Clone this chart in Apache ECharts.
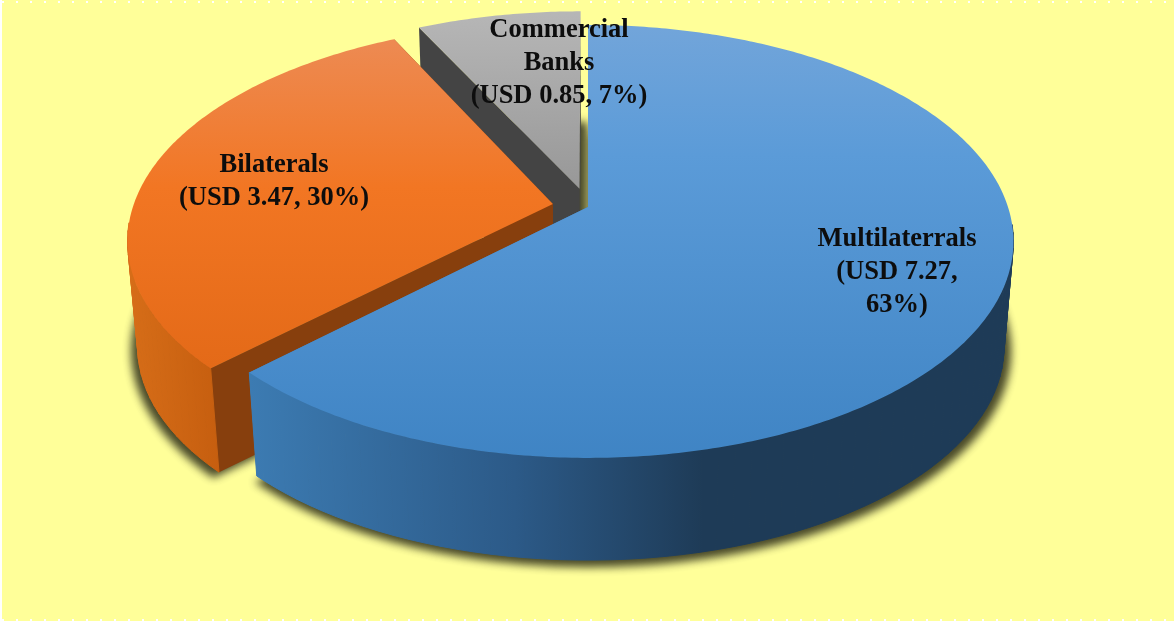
<!DOCTYPE html>
<html>
<head>
<meta charset="utf-8">
<style>
  html, body { margin: 0; padding: 0; background: #fff; }
  #chart { width: 1174px; height: 621px; }
</style>
</head>
<body>
<div id="chart"></div>
<script src="https://cdn.jsdelivr.net/npm/echarts@6/dist/echarts.min.js"></script>
<script>
// USD values, clockwise from 12 o'clock
const sources = ["Multilaterrals", "Bilaterals", "Commercial\nBanks"];
const usdValues = [7.27, 3.47, 0.85];
const explode = [0, 0.085, 0.09];

const labelTexts = [
  "Multilaterrals\n(USD 7.27,\n63%)",
  "Bilaterals\n(USD 3.47, 30%)",
  "Commercial\nBanks\n(USD 0.85, 7%)",
];

// perspective of the disk
const cx = 588, cy = 207, radiusX = 420, radiusY = 211, tilt = 0.159;
const depth = 106, bottomScale = 0.985, bottomNarrow = 0.007;
// the shadow shape is drawn off the page, only its blur lands on the paper
const offPage = 3000;

const linear = (x, y, x2, y2, stops) => ({
  type: "linear", x, y, x2, y2, global: true,
  colorStops: stops.map(([offset, color]) => ({ offset, color })),
});

const topFills = [
  linear(0, 25, 0, 460, [[0, "#72a5da"], [0.3, "#5b9bd8"], [1, "#3f84c4"]]),
  linear(0, 42, 0, 365, [[0, "#ed8a52"], [0.45, "#f27623"], [1, "#e46a18"]]),
  linear(0, 14, 0, 187, [[0, "#b6b6b6"], [1, "#989898"]]),
];
const wallFills = [
  linear(250, 0, 1005, 0, [[0, "#3c7bb2"], [0.35, "#2c5a88"], [0.6, "#1e3b57"], [1, "#1e3b57"]]),
  linear(130, 0, 220, 0, [[0, "#d66d18"], [1, "#c65e0f"]]),
  "#444444",
];
const cutFills = ["#3f7fb8", "#873f0d", "#444444"];
const shadowShiftX = [2, -1, 7];

const total = usdValues.reduce((a, b) => a + b, 0);
const startAngles = usdValues.map((_, i) =>
  usdValues.slice(0, i).reduce((a, b) => a + b, 0) / total * Math.PI * 2
);

function project(u, v, scale) {
  const den = 1 - tilt * v;
  const x = radiusX * u / den;
  const y = radiusY * v / den;
  return scale
    ? [cx + x * (scale - bottomNarrow), cy + depth + y * scale]
    : [cx + x, cy + y];
}

function buildSlice(i) {
  const a0 = startAngles[i];
  const sweep = usdValues[i] / total * Math.PI * 2;
  const mid = a0 + sweep / 2;
  const du = explode[i] * Math.sin(mid);
  const dv = -explode[i] * Math.cos(mid);
  const steps = Math.ceil(sweep / 0.012);
  const angleAt = (s) => a0 + sweep * s / steps;

  const rim = (scale) => {
    const pts = [];
    for (let s = 0; s <= steps; s++) {
      const a = angleAt(s);
      pts.push(project(Math.sin(a) + du, -Math.cos(a) + dv, scale));
    }
    return pts;
  };
  const top = rim(0);
  const bottom = rim(bottomScale);
  const apexTop = project(du, dv, 0);
  const apexBottom = project(du, dv, bottomScale);

  const poly = (points, fill, extra) => ({
    type: "polygon",
    shape: { points },
    style: Object.assign({ fill, stroke: null }, extra),
  });

  // rim wall as a strip of quads, a single outline would lose the tangent sides
  const wall = [];
  for (let s = 0; s < steps; s += 3) {
    const e = Math.min(s + 3, steps);
    if (-Math.cos(angleAt(s)) < 0.1 && -Math.cos(angleAt(e)) < 0.1) continue; // back of the disk, never seen
    wall.push({
      type: "polygon",
      shape: { points: [top[s], top[e], bottom[e], bottom[s]] },
      style: { fill: wallFills[i], stroke: wallFills[i], lineWidth: 1 },
    });
  }

  const shadowShape = [apexBottom].concat(rim(bottomScale + 0.012))
    .map(([x, y]) => [x - offPage, y]);

  return {
    type: "group",
    children: [
      poly(shadowShape, "#000000", {
        shadowBlur: 9,
        shadowColor: "rgba(40,40,20,0.85)",
        shadowOffsetX: offPage + shadowShiftX[i],
        shadowOffsetY: 4,
      }),
      // cut faces go under the rim wall, the back ones end up hidden
      poly([apexTop, top[0], bottom[0], apexBottom], cutFills[i]),
      poly([apexTop, top[steps], bottom[steps], apexBottom], cutFills[i]),
      ...wall,
      poly([apexTop].concat(top), topFills[i]),
    ],
  };
}

const labelStyle = {
  font: 'bold 26.5px "Liberation Serif"',
  fill: "#0d0d0d",
  textAlign: "center",
  textVerticalAlign: "middle",
  lineHeight: 33,
};

const dotted = (y, dash, opacity) => ({
  type: "line",
  z: -1,
  silent: true,
  shape: { x1: 2, y1: y, x2: 1174, y2: y },
  style: { stroke: "#ffffff", lineWidth: 2, lineDash: dash, opacity },
});

const chart = echarts.init(document.getElementById("chart"), null, { renderer: "canvas" });

chart.setOption({
  animation: false,
  backgroundColor: "#ffffff",
  graphic: [
    { type: "rect", z: -2, silent: true, shape: { x: 2, y: 0, width: 1172, height: 621 }, style: { fill: "#ffff99" } },
    dotted(2, [2, 12], 1),
    dotted(620, [2, 12], 1),
    { type: "text", z: 10, x: 897, y: 272, style: Object.assign({ text: labelTexts[0] }, labelStyle) },
    { type: "text", z: 10, x: 274, y: 182, style: Object.assign({ text: labelTexts[1] }, labelStyle) },
    { type: "text", z: 10, x: 559, y: 63, style: Object.assign({ text: labelTexts[2] }, labelStyle) },
  ],
  series: [
    {
      type: "custom",
      coordinateSystem: "none",
      silent: true,
      // back slices first so the front ones overlap them
      data: usdValues.map((value, i) => [i, value]).reverse(),
      renderItem: (params, api) => buildSlice(api.value(0)),
    },
  ],
});
</script>
</body>
</html>
